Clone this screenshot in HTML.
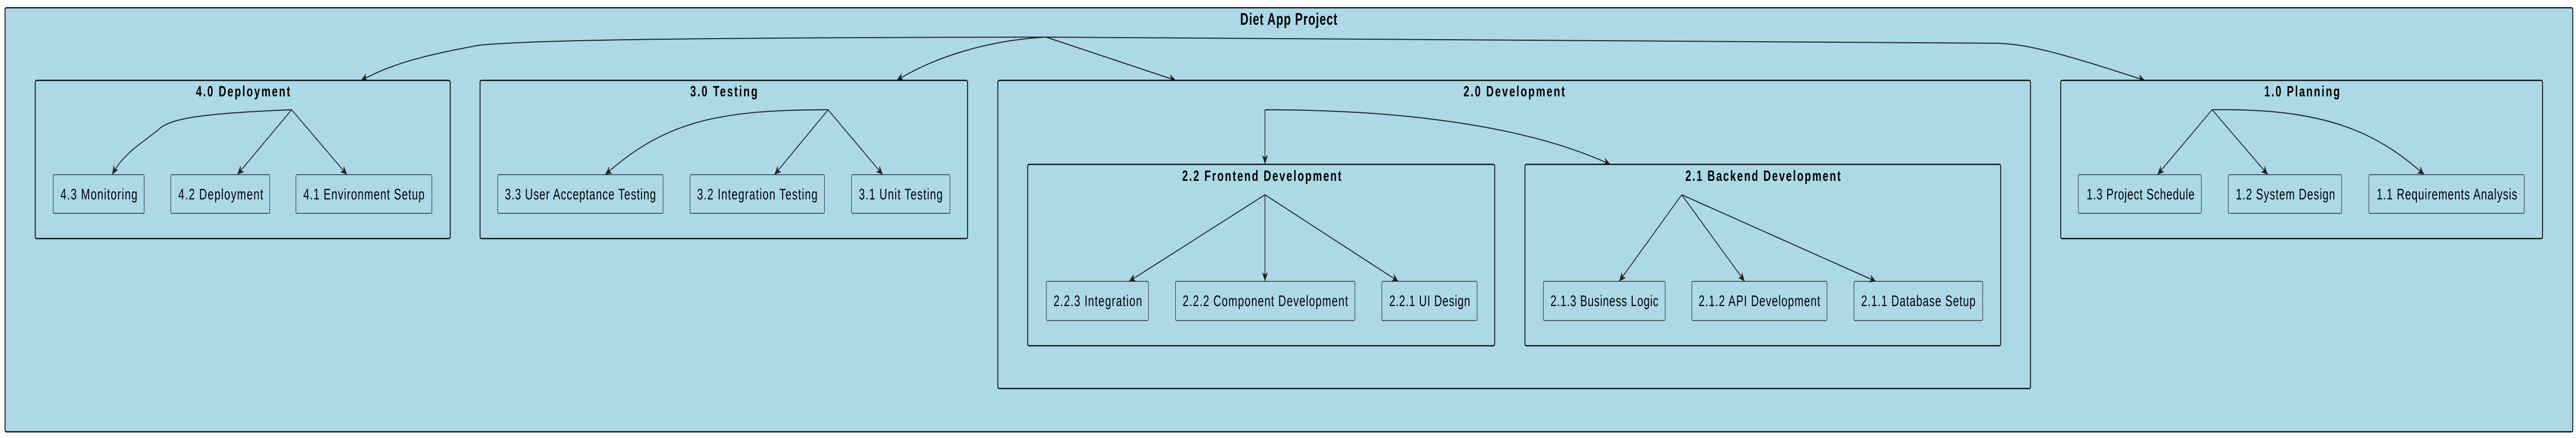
<!DOCTYPE html>
<html><head><meta charset="utf-8"><style>
html,body{margin:0;padding:0;background:#fff;width:100%;height:100%;overflow:hidden;}
svg{display:block;width:100vw;height:100vh;}
text{font-family:"Liberation Sans",sans-serif;fill:#000;}
.t{font-weight:bold;font-size:29px;}
.r{font-weight:bold;font-size:32px;}
.l{font-size:30px;}
.g{fill:#ADD8E6;stroke:#111;stroke-width:2.5;}
.n{fill:#ADD8E6;stroke:#333;stroke-width:1.5;}
.e{fill:none;stroke:#222;stroke-width:2;}
</style></head><body>
<svg viewBox="0 0 7164 850" preserveAspectRatio="none" xmlns="http://www.w3.org/2000/svg">
<defs>
<marker id="a" markerWidth="20" markerHeight="20" refX="18" refY="8" orient="auto" markerUnits="userSpaceOnUse">
<path d="M0,0 L18,8 L0,16 L5,8 Z" fill="#222"/>
</marker>
</defs>
<rect class="g" x="14" y="15" width="7141" height="823" rx="4"/>
<text class="r" x="3584" y="48" text-anchor="middle" textLength="270">Diet App Project</text>

<path class="e" marker-end="url(#a)" d="M2909,72 C1900,73 1460,78 1330,88 C1200,105 1100,120 1004,156"/>
<path class="e" marker-end="url(#a)" d="M2909,72 C2750,78 2600,110 2494,156"/>
<path class="e" marker-end="url(#a)" d="M2909,72 L3270,156"/>
<path class="e" marker-end="url(#a)" d="M2909,72 L5560,84 C5640,87 5720,100 5965,156"/>

<rect class="g" x="98" y="156" width="1154" height="307" rx="4"/>
<text class="t" x="676" y="187" text-anchor="middle" textLength="262">4.0 Deployment</text>
<rect class="n" x="148" y="339" width="253" height="75" rx="3"/>
<rect class="n" x="475" y="339" width="275" height="75" rx="3"/>
<rect class="n" x="823" y="339" width="378" height="75" rx="3"/>
<text class="l" x="275" y="387" text-anchor="middle" textLength="214">4.3 Monitoring</text>
<text class="l" x="614" y="387" text-anchor="middle" textLength="236">4.2 Deployment</text>
<text class="l" x="1012" y="387" text-anchor="middle" textLength="337">4.1 Environment Setup</text>
<path class="e" marker-end="url(#a)" d="M811,213 C560,220 470,230 440,252 C390,280 340,300 312,339"/>
<path class="e" marker-end="url(#a)" d="M811,213 L660,339"/>
<path class="e" marker-end="url(#a)" d="M811,213 L965,339"/>

<rect class="g" x="1335" y="156" width="1356" height="307" rx="4"/>
<text class="t" x="2013" y="187" text-anchor="middle" textLength="187">3.0 Testing</text>
<rect class="n" x="1384" y="339" width="460" height="75" rx="3"/>
<rect class="n" x="1919" y="339" width="374" height="75" rx="3"/>
<rect class="n" x="2368" y="339" width="274" height="75" rx="3"/>
<text class="l" x="1614" y="387" text-anchor="middle" textLength="420">3.3 User Acceptance Testing</text>
<text class="l" x="2106" y="387" text-anchor="middle" textLength="335">3.2 Integration Testing</text>
<text class="l" x="2505" y="387" text-anchor="middle" textLength="233">3.1 Unit Testing</text>
<path class="e" marker-end="url(#a)" d="M2303,213 C2000,213 1850,235 1683,339"/>
<path class="e" marker-end="url(#a)" d="M2303,213 L2154,339"/>
<path class="e" marker-end="url(#a)" d="M2303,213 L2455,339"/>

<rect class="g" x="2775" y="156" width="2872" height="598" rx="4"/>
<text class="t" x="4211" y="187" text-anchor="middle" textLength="282">2.0 Development</text>
<path class="e" marker-end="url(#a)" d="M3518,213 L3518,319"/>
<path class="e" marker-end="url(#a)" d="M3518,213 C3900,213 4250,245 4478,319"/>

<rect class="g" x="2858" y="319" width="1299" height="352" rx="4"/>
<text class="t" x="3509" y="351" text-anchor="middle" textLength="443">2.2 Frontend Development</text>
<rect class="n" x="2910" y="546" width="284" height="76" rx="3"/>
<rect class="n" x="3269" y="546" width="499" height="76" rx="3"/>
<rect class="n" x="3843" y="546" width="265" height="76" rx="3"/>
<text class="l" x="3053" y="594" text-anchor="middle" textLength="246">2.2.3 Integration</text>
<text class="l" x="3519" y="594" text-anchor="middle" textLength="460">2.2.2 Component Development</text>
<text class="l" x="3976" y="594" text-anchor="middle" textLength="225">2.2.1 UI Design</text>
<path class="e" marker-end="url(#a)" d="M3518,378 L3140,546"/>
<path class="e" marker-end="url(#a)" d="M3518,378 L3518,546"/>
<path class="e" marker-end="url(#a)" d="M3518,378 L3889,546"/>

<rect class="g" x="4241" y="319" width="1323" height="352" rx="4"/>
<text class="t" x="4903" y="351" text-anchor="middle" textLength="432">2.1 Backend Development</text>
<rect class="n" x="4292" y="546" width="339" height="76" rx="3"/>
<rect class="n" x="4705" y="546" width="376" height="76" rx="3"/>
<rect class="n" x="5156" y="546" width="358" height="76" rx="3"/>
<text class="l" x="4462" y="594" text-anchor="middle" textLength="300">2.1.3 Business Logic</text>
<text class="l" x="4893" y="594" text-anchor="middle" textLength="338">2.1.2 API Development</text>
<text class="l" x="5335" y="594" text-anchor="middle" textLength="318">2.1.1 Database Setup</text>
<path class="e" marker-end="url(#a)" d="M4677,378 L4503,546"/>
<path class="e" marker-end="url(#a)" d="M4677,378 L4852,546"/>
<path class="e" marker-end="url(#a)" d="M4677,378 L5217,546"/>

<rect class="g" x="5731" y="156" width="1340" height="307" rx="4"/>
<text class="t" x="6402" y="187" text-anchor="middle" textLength="210">1.0 Planning</text>
<rect class="n" x="5780" y="339" width="342" height="75" rx="3"/>
<rect class="n" x="6197" y="339" width="315" height="75" rx="3"/>
<rect class="n" x="6588" y="339" width="432" height="75" rx="3"/>
<text class="l" x="5953" y="387" text-anchor="middle" textLength="300">1.3 Project Schedule</text>
<text class="l" x="6356" y="387" text-anchor="middle" textLength="276">1.2 System Design</text>
<text class="l" x="6805" y="387" text-anchor="middle" textLength="391">1.1 Requirements Analysis</text>
<path class="e" marker-end="url(#a)" d="M6152,213 L6000,339"/>
<path class="e" marker-end="url(#a)" d="M6152,213 L6307,339"/>
<path class="e" marker-end="url(#a)" d="M6152,213 C6450,210 6600,250 6742,339"/>
</svg>
</body></html>
